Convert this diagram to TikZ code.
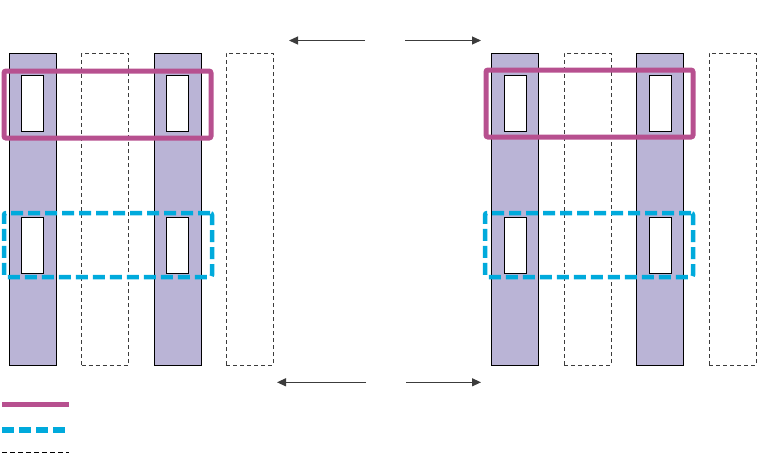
\documentclass[tikz,border=0pt]{standalone}
\usepackage{tikz}
\usetikzlibrary{arrows.meta,positioning,calc}
\definecolor{slpurple}{RGB}{186,180,214}
\definecolor{slmagenta}{RGB}{183,80,143}
\definecolor{slblue}{RGB}{0,170,220}
\definecolor{slgris}{RGB}{60,60,60}

\begin{document}
\begin{tikzpicture}[x=1pt, y=-1pt,
  col/.style={rectangle, draw=black, line width=0.8pt, fill=slpurple,
    minimum width=47pt, minimum height=312pt, inner sep=0pt},
  emptycol/.style={rectangle, draw=slgris, line width=0.8pt, dash pattern=on 4pt off 3pt,
    minimum width=47pt, minimum height=312pt, inner sep=0pt},
  slot/.style={rectangle, draw=black, line width=0.9pt, fill=white,
    minimum width=22pt, minimum height=56pt, inner sep=0pt},
  rowsel/.style={rectangle, draw=slmagenta, line width=5pt, rounded corners=2pt,
    minimum width=207pt, minimum height=67pt, inner sep=0pt},
  rowalt/.style={rectangle, draw=slblue, line width=4.5pt, rounded corners=2pt,
    dash pattern=on 12pt off 5pt, minimum width=208pt, minimum height=64pt, inner sep=0pt},
  flow/.style={-{Triangle[length=9pt,width=8pt]}, line width=1.2pt, slgris}
]
  \useasboundingbox (0,0) rectangle (781,467);

  % left array
  \node[col] (lcolA) at (32.8,209) {};
  \node[emptycol] (lcolB) at (105,209) {};
  \node[col] (lcolC) at (177.5,209) {};
  \node[emptycol] (lcolD) at (249.7,209) {};
  \node[slot] (lslotA1) at (32.5,103.2) {};
  \node[slot] (lslotC1) at (177.5,103.2) {};
  \node[slot] (lslotA2) at (32.5,245.3) {};
  \node[slot] (lslotC2) at (177.5,245.3) {};

  % right array
  \node[col] (rcolA) at (514.8,209) {};
  \node[emptycol] (rcolB) at (587.8,209) {};
  \node[col] (rcolC) at (659.8,209) {};
  \node[emptycol] (rcolD) at (732.5,209) {};
  \node[slot] (rslotA1) at (515.3,103.2) {};
  \node[slot] (rslotC1) at (660,103.2) {};
  \node[slot] (rslotA2) at (515.3,245.3) {};
  \node[slot] (rslotC2) at (660,245.3) {};

  % row selections
  \node[rowsel] (lsel) at (107.5,104.5) {};
  \node[rowsel] (rsel) at (589.5,103.5) {};
  \node[rowalt] (lalt) at (108,245) {};
  \node[rowalt] (ralt) at (589,245) {};

  % arrows
  \coordinate (topmidL) at (365,40.5);
  \coordinate (topendL) at (289,40.5);
  \coordinate (topmidR) at (405,40.5);
  \coordinate (topendR) at (481,40.5);
  \coordinate (botmidL) at (366,382.3);
  \coordinate (botendL) at (277,382.3);
  \coordinate (botmidR) at (406,382.3);
  \coordinate (botendR) at (481,382.3);
  \draw[flow] (topmidL) -- (topendL);
  \draw[flow] (topmidR) -- (topendR);
  \draw[flow] (botmidL) -- (botendL);
  \draw[flow] (botmidR) -- (botendR);

  % legend
  \coordinate (legA) at (2,404.3);
  \coordinate (legAe) at (69,404.3);
  \coordinate (legB) at (2,430);
  \coordinate (legBe) at (66,430);
  \coordinate (legC) at (2,452.3);
  \coordinate (legCe) at (69,452.3);
  \draw[slmagenta, line width=5pt] (legA) -- (legAe);
  \draw[slblue, line width=5.5pt, dash pattern=on 12pt off 5pt] (legB) -- (legBe);
  \draw[black, line width=1pt, dash pattern=on 4.5pt off 3.5pt] (legC) -- (legCe);
\end{tikzpicture}
\end{document}
